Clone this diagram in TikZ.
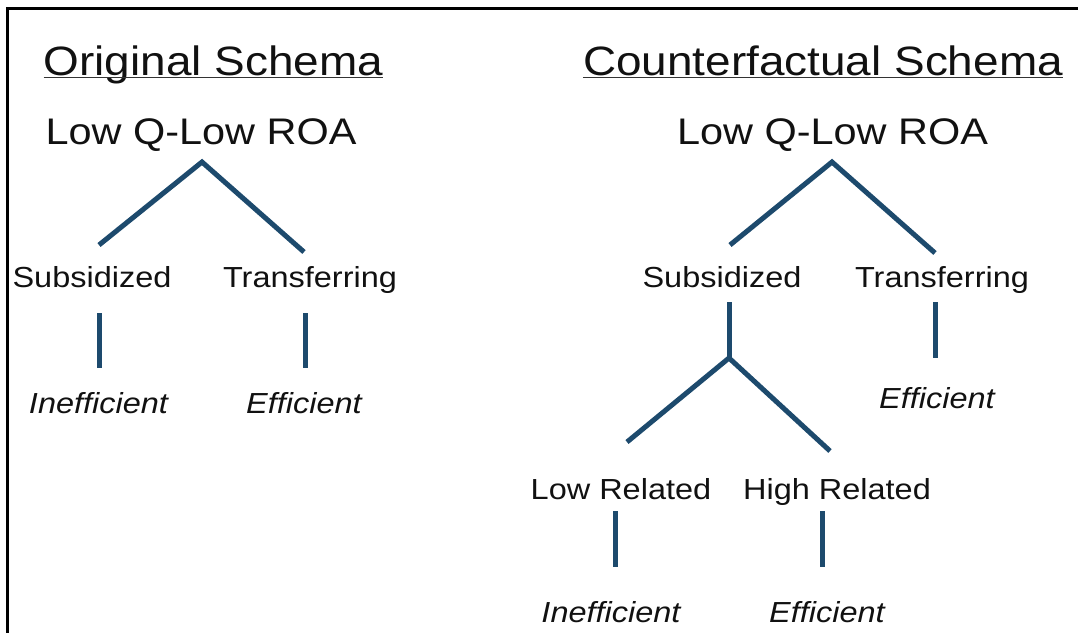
\documentclass[tikz,border=0pt]{standalone}
\usepackage{fontspec}
\setmainfont{Liberation Sans}[FakeStretch=1.12]
\usepackage{tikz}
\usetikzlibrary{positioning}
\definecolor{SchemaBlue}{HTML}{1D4A6D}
\definecolor{SchemaInk}{HTML}{111111}
\definecolor{SchemaRule}{HTML}{333333}

\begin{document}
\begin{tikzpicture}[
  x=1pt,
  y=-1pt,
  label/.style={inner sep=0pt, anchor=base, text=SchemaInk},
  titlelabel/.style={label, font=\fontsize{41}{48}\selectfont},
  rootlabel/.style={label, font=\fontsize{37}{44}\selectfont},
  catlabel/.style={label, font=\fontsize{29}{35}\selectfont},
  outlabel/.style={label, font=\fontsize{29}{35}\selectfont\itshape},
  branch/.style={draw=SchemaBlue, line width=5pt},
  uline/.style={draw=SchemaRule, line width=1.6pt},
  frameline/.style={draw=black, line width=3pt}
]
\useasboundingbox (0,0) rectangle (1078,633);
\draw[frameline] (1078,8) -- (7.5,8) -- (7.5,633);

\node[titlelabel] (origtitle) at (213.5,75) {Original Schema};
\node[titlelabel] (cftitle) at (823,75) {Counterfactual Schema};
\draw[uline] ([yshift=-2.5pt]origtitle.base west) -- ([yshift=-2.5pt]origtitle.base east);
\draw[uline] ([yshift=-2.5pt]cftitle.base west) -- ([yshift=-2.5pt]cftitle.base east);

\node[rootlabel] (origroot) at (201,144) {Low Q-Low ROA};
\node[catlabel] (origsub) at (92,287) {Subsidized};
\node[catlabel] (origtrans) at (310,287) {Transferring};
\node[outlabel] (originef) at (98.5,413) {Inefficient};
\node[outlabel] (origeff) at (304,413) {Efficient};

\node[rootlabel] (cfroot) at (832.5,144) {Low Q-Low ROA};
\node[catlabel] (cfsub) at (722,287) {Subsidized};
\node[catlabel] (cftrans) at (942,287) {Transferring};
\node[outlabel] (cftranseff) at (937,408) {Efficient};
\node[catlabel] (cflow) at (621,499) {Low Related};
\node[catlabel] (cfhigh) at (837,499) {High Related};
\node[outlabel] (cflowinef) at (611,622) {Inefficient};
\node[outlabel] (cfhigheff) at (827,622) {Efficient};

\coordinate (origapex) at (202,162);
\coordinate (origsubtop) at (99,245);
\coordinate (origtranstop) at (304,252);
\coordinate (origsubfoot) at (99,313);
\coordinate (originefhead) at (99,368);
\coordinate (origtransfoot) at (305,313);
\coordinate (origeffhead) at (305,368);

\coordinate (cfapex) at (832,162);
\coordinate (cfsubtop) at (730,245);
\coordinate (cftranstop) at (935,253);
\coordinate (cfsubfoot) at (729,302);
\coordinate (cfjoint) at (729,358);
\coordinate (cflowtop) at (627,442);
\coordinate (cfhightop) at (830,451);
\coordinate (cftransfoot) at (935,302);
\coordinate (cftranseffhead) at (935,358);
\coordinate (cflowfoot) at (615,511);
\coordinate (cflowinefhead) at (615,567);
\coordinate (cfhighfoot) at (822,511);
\coordinate (cfhigheffhead) at (822,567);

\draw[branch] (origsubtop) -- (origapex) -- (origtranstop);
\draw[branch] (origsubfoot) -- (originefhead);
\draw[branch] (origtransfoot) -- (origeffhead);

\draw[branch] (cfsubtop) -- (cfapex) -- (cftranstop);
\draw[branch] (cfsubfoot) -- (cfjoint);
\draw[branch] (cflowtop) -- (cfjoint) -- (cfhightop);
\draw[branch] (cftransfoot) -- (cftranseffhead);
\draw[branch] (cflowfoot) -- (cflowinefhead);
\draw[branch] (cfhighfoot) -- (cfhigheffhead);
\end{tikzpicture}
\end{document}
